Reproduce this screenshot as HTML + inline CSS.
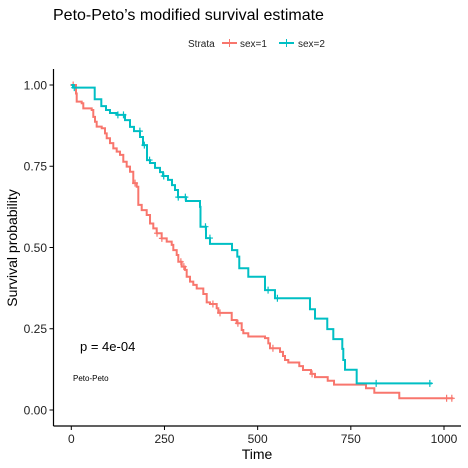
<!DOCTYPE html>
<html><head><meta charset="utf-8"><style>
body{margin:0;background:#fff;}
svg{display:block;font-family:"Liberation Sans",Arial,sans-serif;}
</style></head><body>
<svg id="chart" width="468" height="468" viewBox="0 0 468 468">
<text x="53" y="20" font-size="16" fill="#000">Peto-Peto’s modified survival estimate</text>
<g>
<text x="188" y="47" font-size="10" fill="#222">Strata</text>
<g><line x1="222" y1="43" x2="237" y2="43" stroke="#F8766D" stroke-width="2"/><line x1="229.5" y1="39" x2="229.5" y2="47" stroke="#F8766D" stroke-width="1"/><text x="240" y="47" font-size="10" fill="#222">sex=1</text></g>
<g><line x1="279" y1="43" x2="294" y2="43" stroke="#00BFC4" stroke-width="2"/><line x1="286.5" y1="39" x2="286.5" y2="47" stroke="#00BFC4" stroke-width="1"/><text x="298" y="47" font-size="10" fill="#222">sex=2</text></g>
</g>
<g id="axes"></g>
<g id="curves"></g>
<text x="80" y="351" font-size="13" fill="#000">p = 4e-04</text>
<text x="73" y="381" font-size="8" fill="#000">Peto-Peto</text>
<text x="257" y="459" font-size="14" text-anchor="middle" fill="#000">Time</text>
<text transform="translate(17,248) rotate(-90)" font-size="14" text-anchor="middle" fill="#000">Survival probability</text>
</svg>
<script>
const xTicks=[0,250,500,750,1000];
const yTicks=[0,0.25,0.5,0.75,1];
const yTickLabels=["0.00","0.25","0.50","0.75","1.00"];
const sex1Times=[0,12.6,14.5,27.9,32.2,54.7,59,63.6,68.1,81.6,90.4,95,103.8,112.7,121.8,130.7,139.5,148.6,157.5,166.3,175.5,179.8,188.9,202.3,211.2,220,229.1,242.5,256,269.4,273.7,282.8,287.1,296.2,305.1,309.6,318.5,327.3,336.5,354.2,363.3,372.1,390.1,394.4,430.4,443.8,457.2,461.5,474.9,519.7,528.6,533.1,560,568,573.4,582.2,611.7,621.7,643.1,653.9,688,704.9,790.7,813,880];
const sex1Surv=[1,0.974,0.949,0.944,0.928,0.923,0.902,0.887,0.872,0.867,0.851,0.836,0.821,0.805,0.795,0.785,0.764,0.749,0.733,0.698,0.687,0.631,0.615,0.6,0.574,0.559,0.544,0.528,0.518,0.508,0.492,0.477,0.456,0.441,0.431,0.41,0.395,0.385,0.374,0.357,0.331,0.326,0.313,0.299,0.277,0.267,0.246,0.236,0.226,0.221,0.205,0.19,0.179,0.166,0.154,0.146,0.135,0.123,0.111,0.101,0.09,0.078,0.067,0.053,0.036];
const sex1End=1025;
const sex1Censor=[5,171,230,243,294,302,380,399,447,541,646,1007,1021];
const sex2Times=[0,4.6,62.8,80.5,93.1,103.8,122.6,144.1,157.5,168.2,184.3,192.4,203.1,211.2,224.6,238,246.1,259.5,270.2,278.2,286.3,307.7,345.3,346.6,361.4,372.1,431.2,445.4,450.7,474.9,519.7,546.5,640.4,653.9,686.8,703,727.1,729.8,734.4,765.7];
const sex2Surv=[1,0.992,0.956,0.935,0.923,0.914,0.908,0.892,0.871,0.858,0.84,0.815,0.769,0.76,0.745,0.732,0.72,0.708,0.692,0.677,0.655,0.643,0.625,0.564,0.529,0.511,0.492,0.472,0.436,0.41,0.369,0.344,0.31,0.281,0.249,0.218,0.188,0.154,0.124,0.082];
const sex2End=968;
const sex2Censor=[8,125,140,184,196,210,248,287,306,360,372,528,553,818,962];

const NS='http://www.w3.org/2000/svg';
const X=t=>71.3+t*0.3727;
const Y=s=>410-s*325;
function mk(tag,attrs,parent){const e=document.createElementNS(NS,tag);for(const k in attrs)e.setAttribute(k,attrs[k]);parent.appendChild(e);return e;}
const axes=document.getElementById('axes');
const xl=mk('line',{x1:53.5,y1:426,x2:461,y2:426,stroke:'#000','stroke-width':1.2},axes);


const yl=mk('line',{x1:53.5,y1:69,x2:53.5,y2:426,stroke:'#000','stroke-width':1.2},axes);


xTicks.forEach(v=>{
  mk('line',{x1:X(v),y1:426,x2:X(v),y2:430,stroke:'#000'},axes);
  const t=mk('text',{x:X(v),y:443,'font-size':12,'text-anchor':'middle',fill:'#222'},axes);
  t.textContent=v;
  
  
});
yTicks.forEach((v,i)=>{
  mk('line',{x1:49.5,y1:Y(v),x2:53.5,y2:Y(v),stroke:'#000'},axes);
  const t=mk('text',{x:47,y:Y(v)+4.3,'font-size':12,'text-anchor':'end',fill:'#222'},axes);
  t.textContent=yTickLabels[i];
  
  
});
const curves=document.getElementById('curves');
function drawCurve(times,surv,end,censor,color,name){
  let d='M'+X(times[0])+','+Y(surv[0]);
  for(let i=1;i<times.length;i++){d+=' H'+X(times[i])+' V'+Y(surv[i]);}
  d+=' H'+X(end);
  const p=mk('path',{d:d,fill:'none',stroke:color,'stroke-width':2},curves);
  
  
  censor.forEach(c=>{
    let s=surv[0];
    for(let i=0;i<times.length;i++){if(times[i]<=c)s=surv[i];}
    const g=mk('path',{d:'M'+(X(c)-3)+','+Y(s)+' h6 M'+X(c)+','+(Y(s)-3.5)+' v7',stroke:color,'stroke-width':1.2,fill:'none'},curves);
    
    
  });
}
drawCurve(sex1Times,sex1Surv,sex1End,sex1Censor,'#F8766D','sex1');
drawCurve(sex2Times,sex2Surv,sex2End,sex2Censor,'#00BFC4','sex2');
</script>
</body></html>
